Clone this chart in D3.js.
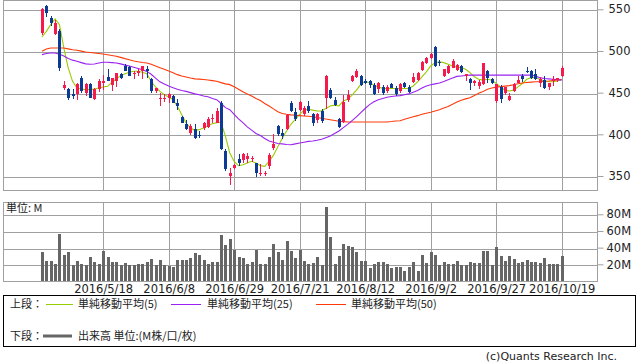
<!DOCTYPE html>
<html>
<head>
<meta charset="utf-8">
<script src="https://cdn.jsdelivr.net/npm/d3@7"></script>
<style>
  html, body { margin: 0; padding: 0; background: #fff; }
  svg { display: block; }
  text { font-family: "DejaVu Sans", "Noto Sans CJK JP", sans-serif; fill: #222; }
  .jp { font-family: "Noto Sans CJK JP", sans-serif; }
  .grid line { stroke: #a0a0a0; shape-rendering: crispEdges; }
  .grid path { display: none; }
</style>
</head>
<body>
<svg id="chart" width="638" height="362"></svg>
<script>
// ── データ ──────────────────────────────────────────────
const opens  = [521,554,540,520,524,456,454,448,448,468,450,460,442,454,462,469,459,464,472,482,
                481,472,473,476,478,466,452,442,442,443,446,437,421,412,402,406,399,408,409,418,
                414,438,380,350,359,370,369,370,371,365,352,352,362,383,410,402,406,437,427,429,
                424,434,424,417,428,443,453,441,418,415,441,464,469,470,464,464,459,454,457,452,
                460,456,452,461,457,463,465,477,485,491,505,487,470,474,480,477,482,470,466,461,
                458,460,476,466,440,457,449,441,452,462,470,476,476,472,462,465,457,464,465,470];
const highs  = [551,555,542,537,526,464,456,454,462,470,462,461,456,466,471,478,468,474,473,484,
                482,476,478,482,482,468,456,450,448,449,447,442,422,417,412,412,404,415,421,424,
                432,440,382,360,364,376,378,378,374,366,364,356,377,400,411,406,424,440,432,440,
                434,440,426,426,430,471,455,445,420,447,453,471,478,471,466,465,461,463,459,459,
                461,458,462,463,459,473,475,488,493,497,506,489,478,483,490,484,483,472,467,465,
                465,485,477,467,460,459,457,449,462,470,472,481,477,478,469,470,462,470,468,482];
const lows   = [519,541,530,519,476,453,441,442,441,450,446,443,441,451,453,464,452,457,466,476,
                470,466,470,466,468,450,450,434,439,438,437,429,413,405,399,394,395,405,408,413,
                413,381,356,339,358,362,366,366,367,349,350,350,358,381,398,394,405,427,416,428,
                422,425,410,414,413,430,442,434,407,414,439,463,468,458,460,455,447,449,447,450,
                455,446,450,456,450,462,464,476,484,490,481,482,469,472,479,476,474,464,453,458,
                454,459,462,460,438,438,447,440,451,461,463,473,466,465,457,454,453,458,463,469];
const closes = [550,546,534,534,479,459,444,446,460,452,460,444,454,464,464,464,467,473,467,476,
                470,474,476,482,476,452,455,444,444,448,438,434,414,406,410,396,398,414,418,420,
                428,382,358,354,363,366,376,374,372,354,354,354,375,388,400,398,423,428,418,439,
                432,428,414,424,416,470,444,435,409,439,447,470,476,459,461,459,448,461,449,457,
                456,448,460,457,451,469,473,487,491,496,482,486,478,482,488,483,475,472,461,464,
                463,485,468,461,460,442,457,446,460,465,466,475,468,466,466,456,462,466,468,480];
// 出来高 (M)
const volumes = [35.1,24,24,20.4,56.3,31.2,34.3,18.8,24,20.4,18.8,28.8,23,20.4,35.9,29.2,22.4,23,19.6,22,
                 19.6,18.8,20.4,20.4,22.4,26.8,18.8,25.2,18.8,18.4,17.2,25.2,25.2,25.2,28,33.9,31.2,25.2,20,23,
                 23,55.1,43.5,50.3,37.1,29.2,27.6,20,22.4,37.1,20,20,29.2,44.3,35.1,25.2,47.9,35.9,28,37.1,
                 23.6,20.4,22,29.2,19.6,89,53.1,20.4,30,44.3,41.9,40.3,34.3,23.6,23.6,15.6,20.4,23,23,20,
                 16,16.8,16.8,12.4,16.8,23,12,31.2,22,34.3,31.2,18.8,23,20.4,20.4,24,18.8,18.8,23,22,
                 22,35.9,35.9,19.6,40.3,30,24,30,26.8,22,23,25.2,23,23,22,27.6,20.4,20,20.4,30];
// 単純移動平均
const ma5  = [516.8,523.5,531.6,538.4,531.6,503.6,479.6,463.6,455.6,454.4,453.6,453.6,454.4,455.6,456.8,457.6,462.4,466.4,470.4,472.8,
              474.4,475.6,475.6,474.5,472.8,463.6,456.8,451.5,447.6,444.8,441.6,433.6,423.6,413.6,407.6,404.8,405.6,407.6,410.4,412.8,
              414,414.5,397.5,377.6,367.5,362.4,363.6,365.6,367.6,365.6,362.4,361.5,367.6,375,385,395,404,412,418,424,
              429,430,429,428,428,431,434,435,434,440,442,447,453,460,463.5,462,459,457,455,455,
              455,455,455,455,455,458,463,469,475,482,486,487,486,484,482,480.4,480,478,474,469,
              466,465,466,465,461,457,453,452,453,457,461,466,468,468,466,464,463,463,464,466];
const ma25 = [495.6,497,497.5,497.6,496,494,491,489,487.6,486,484.5,484,484.4,485.5,486.4,486.4,486,485.6,484.5,483,
              482,480.5,479,477.5,475.5,472,467.5,463,460.5,458,456,454,452.5,451.5,450,448.5,447.5,446,445,443,
              441.6,437,432,429.6,424,418.5,414,409,405,401,398.5,395,392,390.5,389,388.5,387.8,387.5,388.5,389.6,
              390.5,391.5,392,392.8,394,396,398,401,404,408,412,416.5,421,426,431,435.6,439,441.5,443,444.5,
              445.3,446,446.4,447.5,448.5,450.5,452.5,455.5,458,459.5,460.5,461.6,463.5,465.6,467.5,469.5,470,470.6,471,471,
              471,471,471,471,471,471,471,471,471,471,471,471,471,470,468,467,466.5,466,465.6,465];
const ma50 = [499.6,502.4,503.5,503.6,503.6,503.5,502.5,501.5,500.8,499.8,498.8,498.2,497.6,497,496.4,495.5,494.5,493.6,492.3,490.8,
              489.5,488,487,486.2,485.6,484,482,480,478,476,474,471.6,470,468.8,467.5,466.5,466.2,465.8,465.2,464.4,
              463.6,462,460.5,459.6,457,454,451,448.5,446,443,440.5,437,434,430.5,427,425,424,423.3,422.8,422.4,
              422,421.6,421,420.2,419.3,418.3,417.5,416.5,415.6,415.2,414.8,414.8,414.8,414.8,414.8,414.8,414.8,414.8,414.8,414.8,
              415.3,416,416.3,418,419.6,421,422.4,424,425.3,426.5,428,429.6,431.5,433.4,436,438.8,441,442.5,443.8,446.5,
              449.4,451.5,454,455.5,456.6,457.2,457.8,458.4,459.4,460.6,461.5,462.2,462.6,463,463.2,463.6,464,464.6,465.3,465.8];
// 目盛り
const dateTickIndex = [14, 29, 44, 59, 74, 89, 104, 119];
const dateTickLabels = ["2016/5/18","2016/6/8","2016/6/29","2016/7/21","2016/8/12","2016/9/2","2016/9/27","2016/10/19"];
const priceTicks = [350, 400, 450, 500, 550];
const volumeTicks = [20, 40, 60, 80];

const COLORS = { up: '#f51a4b', down: '#0b3b94', ma5: '#99cc00', ma25: '#9a22f0', ma50: '#ff3a0a', vol: '#666' };

// ── レイアウト ──────────────────────────────────────────
const svg = d3.select('#chart');
const L = 3.5, R = 597.5;
const priceTop = 0.5, priceBottom = 190.5;
const volTop = 202.5, volBottom = 281.5;

const x = d3.scaleLinear().domain([0, 119]).range([42, 561.7]);
const y = d3.scaleLinear().domain([350, 550]).range([176, 9.3]);
const yv = d3.scaleLinear().domain([0, 80]).range([281, 214.3]);

const gridX = dateTickIndex.map(i => Math.round(x(i)) + 0.5);

// ── 上段: 株価 ──
svg.append('g').attr('class', 'grid')
  .attr('transform', `translate(${R},0)`)
  .call(d3.axisLeft(y).tickValues(priceTicks).tickSize(R - L).tickFormat(''))
  .selectAll('line').attr('transform', d => `translate(0,${Math.round(y(d)) + 0.5 - y(d)})`);

svg.append('g').selectAll('line').data(gridX).join('line')
  .attr('x1', d => d).attr('x2', d => d).attr('y1', priceTop).attr('y2', priceBottom)
  .attr('stroke', '#a0a0a0').attr('shape-rendering', 'crispEdges');

svg.append('rect').attr('x', L).attr('y', priceTop).attr('width', R - L).attr('height', priceBottom - priceTop)
  .attr('fill', 'none').attr('stroke', '#a0a0a0').attr('shape-rendering', 'crispEdges');

const priceAxis = svg.append('g').attr('transform', `translate(${R},0)`)
  .call(d3.axisRight(y).tickValues(priceTicks).tickSize(6).tickPadding(5));
priceAxis.select('.domain').remove();
priceAxis.selectAll('line').attr('stroke', '#a0a0a0');
priceAxis.selectAll('text').attr('font-size', 11.5).attr('fill', '#333');

// 移動平均線
const line = d3.line().x((d, i) => x(i)).y(d => y(d));
[['ma5', ma5], ['ma50', ma50], ['ma25', ma25]].forEach(([k, arr]) => {
  svg.append('path').datum(arr).attr('d', line)
    .attr('fill', 'none').attr('stroke', COLORS[k]).attr('stroke-width', 1.1);
});

// ローソク足
const candles = d3.range(closes.length).map(i => ({ i, o: opens[i], h: highs[i], l: lows[i], c: closes[i] }));
const cg = svg.append('g').attr('shape-rendering', 'crispEdges');
const bodyW = 3.6;
cg.selectAll('.wick').data(candles).join('line').attr('class', 'wick')
  .attr('x1', d => Math.round(x(d.i)) + 0.5).attr('x2', d => Math.round(x(d.i)) + 0.5)
  .attr('y1', d => y(d.h)).attr('y2', d => y(d.l))
  .attr('stroke', d => d.c >= d.o ? COLORS.up : COLORS.down);
cg.selectAll('.body').data(candles).join('rect').attr('class', 'body')
  .attr('x', d => Math.round(x(d.i)) + 0.5 - bodyW / 2)
  .attr('width', bodyW)
  .attr('y', d => y(Math.max(d.o, d.c)))
  .attr('height', d => Math.max(1, Math.abs(y(d.o) - y(d.c))))
  .attr('fill', d => d.c >= d.o ? COLORS.up : COLORS.down);

// ── 下段: 出来高 ──
svg.append('g').attr('class', 'grid')
  .attr('transform', `translate(${R},0)`)
  .call(d3.axisLeft(yv).tickValues(volumeTicks).tickSize(R - L).tickFormat(''))
  .selectAll('line').attr('transform', d => `translate(0,${Math.round(yv(d)) + 0.5 - yv(d)})`);

svg.append('g').selectAll('line').data(gridX).join('line')
  .attr('x1', d => d).attr('x2', d => d).attr('y1', volTop).attr('y2', volBottom)
  .attr('stroke', '#a0a0a0').attr('shape-rendering', 'crispEdges');

svg.append('g').attr('shape-rendering', 'crispEdges')
  .selectAll('rect').data(volumes).join('rect')
  .attr('x', (d, i) => Math.round(x(i)) - 1)
  .attr('width', 3)
  .attr('y', d => yv(d))
  .attr('height', d => yv(0) - yv(d))
  .attr('fill', COLORS.vol);

svg.append('rect').attr('x', L).attr('y', volTop).attr('width', R - L).attr('height', volBottom - volTop)
  .attr('fill', 'none').attr('stroke', '#a0a0a0').attr('shape-rendering', 'crispEdges');

const volAxis = svg.append('g').attr('transform', `translate(${R},0)`)
  .call(d3.axisRight(yv).tickValues(volumeTicks).tickSize(6).tickPadding(3).tickFormat(d => d + 'M'));
volAxis.select('.domain').remove();
volAxis.selectAll('line').attr('stroke', '#a0a0a0');
volAxis.selectAll('text').attr('font-size', 11.5).attr('fill', '#333');

svg.append('text').attr('class', 'jp').attr('x', 6).attr('y', 212)
  .attr('font-size', 11).text('単位: M');

// 日付ラベル
const xAxis = svg.append('g').attr('transform', `translate(0,${volBottom})`)
  .call(d3.axisBottom(x).tickValues(dateTickIndex).tickSize(0).tickPadding(3)
    .tickFormat((d, k) => dateTickLabels[k]));
xAxis.select('.domain').remove();
xAxis.selectAll('text').attr('font-size', 11.5).attr('fill', '#222');

// ── 凡例 ──
const lg = svg.append('g');
lg.append('rect').attr('x', 3.5).attr('y', 295.5).attr('width', 632).attr('height', 51)
  .attr('fill', 'none').attr('stroke', '#000').attr('shape-rendering', 'crispEdges');
const legendItems = [
  { x1: 46, x2: 73, color: COLORS.ma5, label: '単純移動平均(5)', tx: 78 },
  { x1: 171, x2: 201, color: COLORS.ma25, label: '単純移動平均(25)', tx: 207 },
  { x1: 316, x2: 346, color: COLORS.ma50, label: '単純移動平均(50)', tx: 351 }
];
lg.append('text').attr('class', 'jp').attr('x', 10).attr('y', 308).attr('font-size', 11).text('上段：');
legendItems.forEach(d => {
  lg.append('line').attr('x1', d.x1).attr('x2', d.x2).attr('y1', 304.5).attr('y2', 304.5)
    .attr('stroke', d.color).attr('stroke-width', 1);
  lg.append('text').attr('class', 'jp').attr('x', d.tx).attr('y', 308).attr('font-size', 11).text(d.label);
});
lg.append('text').attr('class', 'jp').attr('x', 10).attr('y', 340).attr('font-size', 11).text('下段：');
lg.append('line').attr('x1', 43).attr('x2', 72).attr('y1', 336).attr('y2', 336)
  .attr('stroke', COLORS.vol).attr('stroke-width', 3);
lg.append('text').attr('class', 'jp').attr('x', 78).attr('y', 340).attr('font-size', 11).text('出来高 単位:(M株/口/枚)');

svg.append('text').attr('x', 617).attr('y', 360).attr('text-anchor', 'end')
  .attr('font-size', 11).attr('fill', '#444').text('(c)Quants Research Inc.');
</script>
</body>
</html>
